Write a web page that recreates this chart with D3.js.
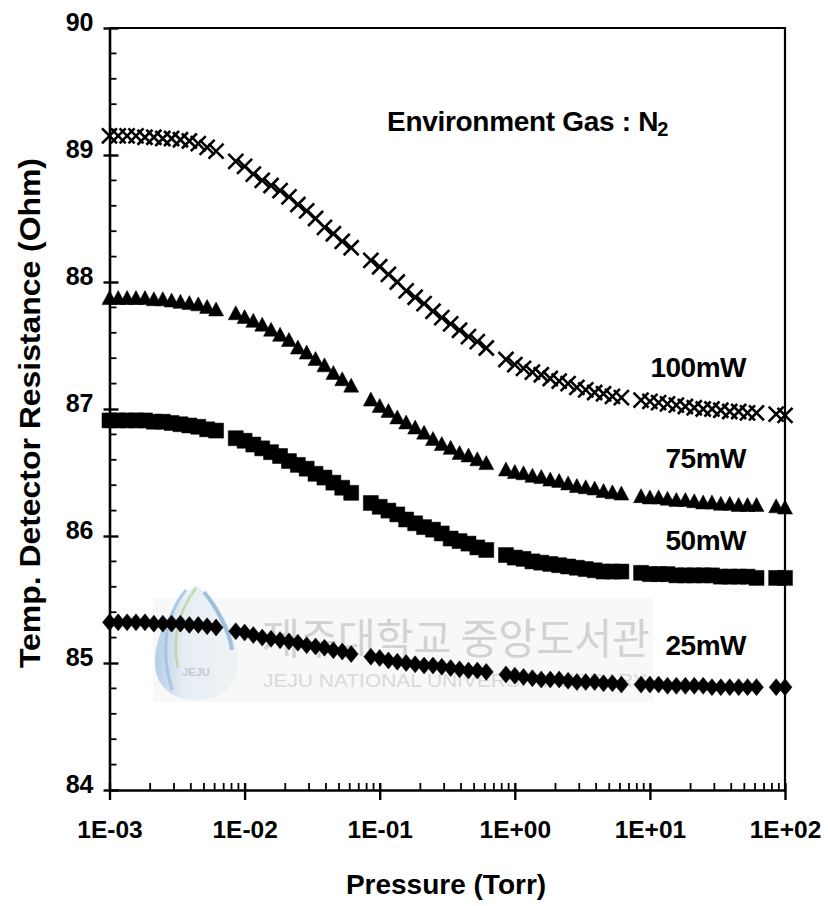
<!DOCTYPE html>
<html>
<head>
<meta charset="utf-8">
<script src="https://cdn.jsdelivr.net/npm/d3@7"></script>
<style>
  html, body { margin: 0; padding: 0; background: #fff; }
  svg { display: block; font-family: "Liberation Sans", Arial, sans-serif; }
</style>
</head>
<body>
<svg id="chart" width="828" height="906"></svg>
<script>
// Pressure sweep (Torr), shared by all four heater-power runs
const pressure = [
  1.00e-3, 1.16e-3, 1.35e-3, 1.57e-3, 1.83e-3, 2.13e-3, 2.48e-3, 2.88e-3, 3.35e-3, 3.90e-3, 4.54e-3, 5.28e-3, 6.15e-3,
  8.6e-3, 1.00e-2, 1.16e-2, 1.35e-2, 1.57e-2, 1.83e-2, 2.13e-2, 2.48e-2, 2.88e-2, 3.35e-2, 3.90e-2, 4.54e-2, 5.28e-2, 6.15e-2,
  8.6e-2, 0.100, 0.116, 0.135, 0.157, 0.183, 0.213, 0.248, 0.288, 0.335, 0.390, 0.454, 0.528, 0.615,
  0.86, 1.00, 1.16, 1.35, 1.57, 1.83, 2.13, 2.48, 2.88, 3.35, 3.90, 4.54, 5.28, 6.15,
  8.6, 10.0, 11.6, 13.5, 15.7, 18.3, 21.3, 24.8, 28.8, 33.5, 39.0, 45.4, 52.8, 61.5,
  86, 100
];

// Detector resistance (Ohm) for each heater power
const r100mW = [
  89.15, 89.15, 89.15, 89.15, 89.14, 89.14, 89.13, 89.13, 89.12, 89.11, 89.09, 89.06, 89.03,
  88.95, 88.91, 88.85, 88.80, 88.76, 88.72, 88.67, 88.61, 88.56, 88.50, 88.43, 88.38, 88.32, 88.27,
  88.17, 88.12, 88.06, 88.00, 87.93, 87.88, 87.83, 87.77, 87.72, 87.67, 87.62, 87.57, 87.53, 87.48,
  87.39, 87.35, 87.32, 87.29, 87.27, 87.24, 87.22, 87.20, 87.17, 87.15, 87.13, 87.12, 87.10, 87.09,
  87.07, 87.06, 87.05, 87.04, 87.03, 87.02, 87.01, 87.00, 87.00, 86.99, 86.98, 86.98, 86.97, 86.97,
  86.96, 86.95
];
const r75mW = [
  87.87, 87.87, 87.87, 87.87, 87.87, 87.86, 87.86, 87.85, 87.84, 87.83, 87.82, 87.80, 87.78,
  87.75, 87.72, 87.69, 87.66, 87.62, 87.58, 87.54, 87.48, 87.44, 87.39, 87.34, 87.28, 87.23, 87.18,
  87.07, 87.02, 86.98, 86.93, 86.89, 86.85, 86.81, 86.76, 86.72, 86.69, 86.65, 86.63, 86.60, 86.57,
  86.52, 86.50, 86.49, 86.47, 86.46, 86.44, 86.43, 86.41, 86.39, 86.38, 86.37, 86.35, 86.34, 86.33,
  86.31, 86.30, 86.30, 86.29, 86.28, 86.28, 86.27, 86.26, 86.26, 86.25, 86.25, 86.24, 86.24, 86.24,
  86.23, 86.22
];
const r50mW = [
  86.91, 86.91, 86.91, 86.91, 86.91, 86.90, 86.90, 86.89, 86.88, 86.87, 86.86, 86.84, 86.83,
  86.77, 86.75, 86.72, 86.69, 86.66, 86.63, 86.59, 86.56, 86.53, 86.49, 86.46, 86.42, 86.38, 86.34,
  86.26, 86.23, 86.20, 86.17, 86.13, 86.10, 86.07, 86.05, 86.02, 85.98, 85.96, 85.94, 85.91, 85.89,
  85.85, 85.83, 85.82, 85.80, 85.79, 85.78, 85.77, 85.76, 85.75, 85.74, 85.73, 85.72, 85.72, 85.72,
  85.71, 85.70, 85.70, 85.70, 85.69, 85.69, 85.69, 85.69, 85.69, 85.68, 85.68, 85.68, 85.68, 85.67,
  85.67, 85.67
];
const r25mW = [
  85.32, 85.32, 85.32, 85.32, 85.32, 85.31, 85.31, 85.31, 85.31, 85.30, 85.30, 85.29, 85.28,
  85.25, 85.24, 85.22, 85.20, 85.19, 85.18, 85.17, 85.16, 85.14, 85.13, 85.12, 85.10, 85.09, 85.07,
  85.05, 85.04, 85.02, 85.01, 85.00, 84.99, 84.98, 84.98, 84.97, 84.96, 84.95, 84.94, 84.94, 84.93,
  84.91, 84.90, 84.89, 84.88, 84.87, 84.87, 84.87, 84.86, 84.85, 84.85, 84.85, 84.84, 84.84, 84.83,
  84.83, 84.83, 84.83, 84.82, 84.82, 84.82, 84.82, 84.82, 84.81, 84.81, 84.81, 84.81, 84.81, 84.81,
  84.81, 84.81
];

const seriesLabels = ["100mW", "75mW", "50mW", "25mW"];
const xTickValues = [1e-3, 1e-2, 1e-1, 1e0, 1e1, 1e2];
const xTickLabels = ["1E-03", "1E-02", "1E-01", "1E+00", "1E+01", "1E+02"];
const yTickValues = [84, 85, 86, 87, 88, 89, 90];
const yTickLabels = ["84", "85", "86", "87", "88", "89", "90"];

const svg = d3.select("#chart");
const x = d3.scaleLog().domain([1e-3, 1e2]).range([109.5, 785]);
const y = d3.scaleLinear().domain([84, 90]).range([790, 28]);
const [x0, x1] = x.range();
const [yb, yt] = y.range();

// ---- library watermark (faint, behind the data) ----
const wm = svg.append("g").attr("class", "watermark");
const defs = svg.append("defs");
const grad = defs.append("linearGradient").attr("id", "dropGrad")
  .attr("x1", 0).attr("y1", 0).attr("x2", 1).attr("y2", 0);
grad.append("stop").attr("offset", "0%").attr("stop-color", "#a9c6e4");
grad.append("stop").attr("offset", "35%").attr("stop-color", "#e3ecf2");
grad.append("stop").attr("offset", "100%").attr("stop-color", "#eef2f5");
wm.append("rect").attr("x", 153).attr("y", 598).attr("width", 500).attr("height", 104)
  .attr("fill", "#f8f8f8");
wm.append("path")
  .attr("d", "M196,585 C176,600 155,630 155,662 C155,688 174,700 196,700 C218,700 238,688 238,662 C238,630 216,600 196,585 Z")
  .attr("fill", "url(#dropGrad)").attr("opacity", 0.85);
wm.append("path").attr("d", "M186,590 C165,615 160,650 172,690")
  .attr("fill", "none").attr("stroke", "#9ec0e2").attr("stroke-width", 3).attr("opacity", 0.8);
wm.append("path").attr("d", "M196,588 C178,612 172,640 178,668")
  .attr("fill", "none").attr("stroke", "#b8d49a").attr("stroke-width", 2.5).attr("opacity", 0.8);
wm.append("path").attr("d", "M204,592 C214,604 230,630 232,650")
  .attr("fill", "none").attr("stroke", "#7ea9d2").attr("stroke-width", 4).attr("opacity", 0.7);
wm.append("text").attr("x", 196).attr("y", 676).attr("text-anchor", "middle")
  .attr("font-size", 11).attr("font-weight", "bold").attr("fill", "#c5c9cf").text("JEJU");
wm.append("text").attr("x", 262).attr("y", 654)
  .attr("font-family", "'Noto Sans CJK KR', sans-serif").attr("font-size", 42)
  .attr("textLength", 388).attr("lengthAdjust", "spacingAndGlyphs")
  .attr("fill", "#d2d2d2").text("제주대학교 중앙도서관");
wm.append("text").attr("x", 263).attr("y", 687)
  .attr("font-size", 19).attr("textLength", 384).attr("lengthAdjust", "spacingAndGlyphs")
  .attr("fill", "#d6dade").text("JEJU NATIONAL UNIVERSITY LIBRARY");

// ---- frame (top and right edges) ----
svg.append("path")
  .attr("d", `M${x0},${yt}H${x1}V${yb}`)
  .attr("fill", "none").attr("stroke", "#000").attr("stroke-width", 2.2);

// ---- x axis (log, decades) ----
const xAxis = svg.append("g").attr("transform", `translate(0,${yb})`)
  .call(d3.axisBottom(x).tickValues(xTickValues)
    .tickFormat((d, i) => xTickLabels[i]).tickSizeOuter(0));
xAxis.select(".domain").attr("stroke-width", 2.6);
xAxis.selectAll(".tick line").attr("y1", -7).attr("y2", 10).attr("stroke-width", 2.4);
xAxis.selectAll(".tick text").attr("y", 48).attr("dy", null)
  .attr("font-size", 24.5).attr("font-weight", "bold").attr("fill", "#000")
  .attr("font-family", "'Liberation Sans', Arial, sans-serif");
const xMinor = [];
xTickValues.slice(0, -1).forEach(d => { for (let k = 2; k <= 9; k++) xMinor.push(k * d); });
xAxis.selectAll(".minor").data(xMinor).enter().append("line")
  .attr("x1", d => x(d)).attr("x2", d => x(d)).attr("y1", 0).attr("y2", -7)
  .attr("stroke", "#000").attr("stroke-width", 1.8);

// ---- y axis ----
const yAxis = svg.append("g").attr("transform", `translate(${x0},0)`)
  .call(d3.axisLeft(y).tickValues(yTickValues)
    .tickFormat((d, i) => yTickLabels[i]).tickSizeOuter(0));
yAxis.select(".domain").attr("stroke-width", 2.6);
yAxis.selectAll(".tick line").attr("x1", -6).attr("x2", 9).attr("stroke-width", 2.4);
yAxis.selectAll(".tick text").attr("x", -16).attr("y", 2).attr("dy", null)
  .attr("font-size", 25).attr("font-weight", "bold").attr("fill", "#000")
  .attr("font-family", "'Liberation Sans', Arial, sans-serif");
const yMinor = d3.range(84.2, 90, 0.2).filter(v => Math.abs(v - Math.round(v)) > 1e-6);
yAxis.selectAll(".minor").data(yMinor).enter().append("line")
  .attr("x1", 0).attr("x2", 7).attr("y1", d => y(d)).attr("y2", d => y(d))
  .attr("stroke", "#000").attr("stroke-width", 1.8);

// ---- axis titles ----
svg.append("text").attr("x", 446).attr("y", 894).attr("text-anchor", "middle")
  .attr("font-size", 28).attr("font-weight", "bold").text("Pressure (Torr)");
svg.append("text").attr("transform", "translate(40,413) rotate(-90)")
  .attr("text-anchor", "middle").attr("font-size", 30).attr("font-weight", "bold")
  .attr("textLength", 510).attr("lengthAdjust", "spacingAndGlyphs")
  .text("Temp. Detector Resistance (Ohm)");

// ---- annotation ----
const note = svg.append("text").attr("x", 387).attr("y", 131)
  .attr("font-size", 28).attr("font-weight", "bold").attr("letter-spacing", -0.3);
note.append("tspan").text("Environment Gas : N");
note.append("tspan").attr("font-size", 20).attr("dy", 5).attr("dx", -1).text("2");

// ---- data markers ----
const series = [
  { name: seriesLabels[0], values: r100mW, shape: "times" },
  { name: seriesLabels[1], values: r75mW, shape: "triangle" },
  { name: seriesLabels[2], values: r50mW, shape: "square" },
  { name: seriesLabels[3], values: r25mW, shape: "diamond" }
];
const shapes = {
  times: "M-7.5,-7.5L7.5,7.5M-7.5,7.5L7.5,-7.5",
  triangle: "M0,-8L7.5,6L-7.5,6Z",
  square: "M-7.5,-7.5H7.5V7.5H-7.5Z",
  diamond: "M0,-8.5L7,0L0,8.5L-7,0Z"
};
series.forEach(s => {
  const g = svg.append("g").attr("class", "series");
  g.selectAll("path").data(s.values).enter().append("path")
    .attr("transform", (v, i) => `translate(${x(pressure[i])},${y(v)})`)
    .attr("d", shapes[s.shape])
    .attr("fill", s.shape === "times" ? "none" : "#000")
    .attr("stroke", "#000")
    .attr("stroke-width", s.shape === "times" ? 2.6 : 0.5);
});

// ---- series labels ----
const labelBaselines = [377, 468, 550, 655];
seriesLabels.forEach((t, i) => {
  svg.append("text").attr("x", 746).attr("y", labelBaselines[i])
    .attr("text-anchor", "end").attr("font-size", 28).attr("font-weight", "bold")
    .attr("letter-spacing", -0.5).text(t);
});
</script>
</body>
</html>
